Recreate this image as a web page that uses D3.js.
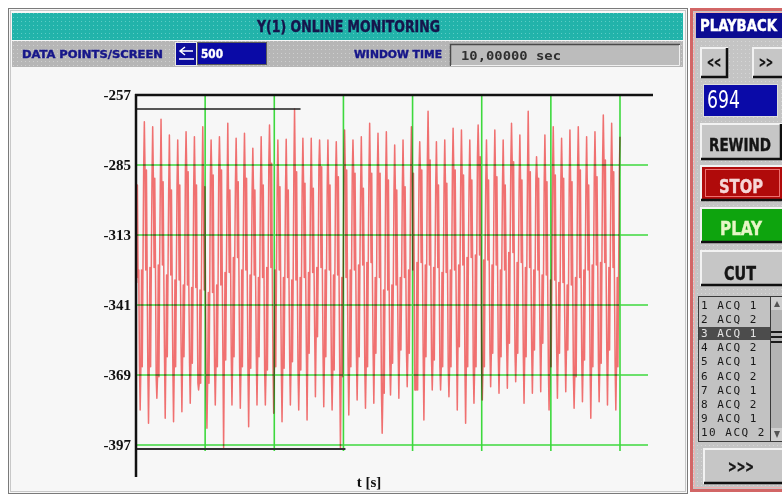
<!DOCTYPE html>
<html>
<head>
<meta charset="utf-8">
<script src="https://cdn.jsdelivr.net/npm/d3@7"></script>
<style>
  html, body { margin: 0; padding: 0; background: #ffffff; }
  svg { display: block; }
</style>
</head>
<body>
<script>
// Values, one entry per oscillation cycle (58 cycles).
const peaks = [
  -267.7, -269.7, -266.7, -273.0, -275.0, -271.7, -273.7, -269.7, -275.0, -273.7,
  -268.3, -274.3, -272.3, -278.3, -273.7, -269.0, -275.0, -274.7, -262.6, -274.3,
  -274.3, -275.0, -275.0, -275.7, -271.0, -275.0, -273.7, -268.3, -272.3, -271.7,
  -277.0, -275.0, -269.7, -275.7, -263.5, -275.7, -275.0, -270.3, -271.0, -275.0,
  -269.0, -275.0, -271.0, -275.0, -268.3, -273.0, -263.5, -281.7, -273.0, -269.7,
  -274.3, -271.0, -269.7, -273.7, -271.7, -265.0, -268.3, -273.7
];
const troughs = [
  -383.0, -388.3, -378.3, -386.3, -387.7, -383.7, -380.3, -375.0, -390.3, -381.0,
  -398.0, -381.0, -382.3, -389.7, -381.0, -381.0, -384.3, -387.7, -381.0, -383.0,
  -387.0, -377.7, -381.7, -383.0, -398.6, -385.0, -379.0, -382.3, -380.3,
  -392.3, -377.0, -378.3, -373.7, -375.0, -387.0, -375.0, -375.0, -377.7, -383.0,
  -388.3, -380.3, -379.0, -373.7, -376.3, -374.3, -371.7, -380.3, -376.3, -375.7,
  -383.0, -378.3, -375.7, -382.3, -379.7, -386.3, -379.7, -381.0, -383.0
];
// top of the upper thick bar / bottom of the lower thick bar
const upper = [
  -287.0, -290.3, -291.7, -295.0, -293.0, -287.7, -293.0, -293.7, -289.0, -287.0,
  -295.0, -291.7, -290.3, -295.0, -293.0, -284.3, -293.7, -295.0, -287.7, -292.3,
  -294.3, -285.7, -293.0, -289.7, -287.0, -288.3, -294.3, -288.3, -288.3,
  -291.0, -295.0, -293.7, -288.3, -287.0, -283.0, -293.0, -292.3, -287.0, -289.0,
  -291.0, -281.7, -291.0, -289.7, -293.0, -283.7, -291.0, -287.7, -290.3, -291.7,
  -289.0, -290.3, -291.7, -287.0, -293.0, -289.7, -283.0, -287.7, -287.7
];
const lower = [
  -365.7, -365.7, -369.7, -361.7, -365.7, -361.7, -364.3, -372.3, -372.3, -365.7,
  -363.0, -361.7, -365.7, -366.3, -361.7, -367.0, -365.7, -366.3, -363.7, -367.0,
  -360.3, -353.7, -361.7, -367.0, -369.7, -365.7, -361.7, -365.7, -360.3,
  -376.3, -364.3, -359.0, -360.3, -375.0, -361.7, -363.0, -365.7, -365.7, -357.7,
  -365.7, -365.7, -365.7, -360.3, -361.7, -356.3, -360.3, -361.7, -359.0, -356.3,
  -365.7, -360.3, -359.0, -369.7, -363.0, -365.7, -364.3, -359.0, -365.7
];
// the slow wavy line where the two bars meet
const mid = [
  -327, -326, -325, -329, -331, -333, -334, -335, -336, -333,
  -328, -322, -327, -329, -330, -326, -327, -330, -331, -330,
  -328, -326, -327, -329, -330, -327, -325, -324, -330,
  -335, -333, -330, -327, -324, -325, -326, -328, -327, -325,
  -322, -321, -323, -325, -327, -320, -324, -326, -327, -329,
  -331, -332, -333, -330, -327, -325, -324, -326, -330
];
// partial bar at the left edge before the first full cycle
const lead = [-291, -332, -293, -330];

const yTicks = [-257, -285, -313, -341, -369, -397];
const gridTimes = [1, 2, 3, 4, 5, 6, 7];
const playList = ['1 ACQ 1', '2 ACQ 2', '3 ACQ 1', '4 ACQ 2', '5 ACQ 1',
  '6 ACQ 2', '7 ACQ 1', '8 ACQ 2', '9 ACQ 1', '10 ACQ 2'];
const selectedItem = 2;

// samples in screen order: the signal chatters inside a lower band around
// each trough, then inside an upper band around each peak
const series = lead.slice();
peaks.forEach((p, k) => {
  series.push(mid[k], lower[k], troughs[k], lower[k], mid[k], lower[k],
    mid[k], upper[k], p);
  if (k < peaks.length - 1) series.push(upper[k], mid[k], upper[k]);
});

const W = 782;
const H = 498;
const narrow = "'DejaVu Sans Condensed','Liberation Sans Narrow',sans-serif";
const serif = "'Liberation Serif','DejaVu Serif',serif";
const mono = "'DejaVu Sans Mono','Liberation Mono',monospace";

const svg = d3
  .select('body')
  .append('svg')
  .attr('width', W)
  .attr('height', H)
  .attr('viewBox', [0, 0, W, H]);

// dotted textures of the old UI
const defs = svg.append('defs');
const dots = (id, base, dot) => {
  const p = defs
    .append('pattern')
    .attr('id', id)
    .attr('width', 4)
    .attr('height', 4)
    .attr('patternUnits', 'userSpaceOnUse');
  p.append('rect').attr('width', 4).attr('height', 4).attr('fill', base);
  p.append('rect').attr('x', 1).attr('y', 1).attr('width', 1).attr('height', 1).attr('fill', dot);
};
dots('teal', '#22b3aa', '#5cccc4');
dots('gray', '#b6b6b6', '#cfcfcf');
dots('panel', '#c4c4c4', '#d6d6d6');

// heavy condensed label, squeezed to the width seen on screen
const label = (tx, ty, txt, size, color, len, anchor) => {
  const t = svg
    .append('text')
    .attr('x', tx)
    .attr('y', ty)
    .attr('text-anchor', anchor || 'start')
    .style('font-family', narrow)
    .style('font-weight', 'bold')
    .style('font-size', size + 'px')
    .style('fill', color)
    .style('stroke', color)
    .style('stroke-width', 0.4)
    .text(txt);
  if (len) t.attr('textLength', len).attr('lengthAdjust', 'spacingAndGlyphs');
  return t;
};

// Left window frame
svg
  .append('rect')
  .attr('x', 8.5)
  .attr('y', 8.5)
  .attr('width', 679)
  .attr('height', 485)
  .attr('fill', '#f7f7f7')
  .attr('stroke', '#7a7a7a');
svg
  .append('rect')
  .attr('x', 10.5)
  .attr('y', 10.5)
  .attr('width', 675)
  .attr('height', 481)
  .attr('fill', 'none')
  .attr('stroke', '#c8c8c8');

// Title bar
svg
  .append('rect')
  .attr('x', 12)
  .attr('y', 13)
  .attr('width', 671)
  .attr('height', 27)
  .attr('fill', 'url(#teal)');
label(257, 32, 'Y(1) ONLINE MONITORING', 15, '#16164c', 183);

// Settings row
svg
  .append('rect')
  .attr('x', 12)
  .attr('y', 41)
  .attr('width', 671)
  .attr('height', 26)
  .attr('fill', 'url(#gray)');
label(22, 58, 'DATA POINTS/SCREEN', 11, '#16168a', 141);
svg
  .append('rect')
  .attr('x', 175.5)
  .attr('y', 42.5)
  .attr('width', 21)
  .attr('height', 23)
  .attr('fill', '#0c0c9c')
  .attr('stroke', '#e8e8e8');
svg
  .append('path')
  .attr('d', 'M193,51H181M185,47L180,51L185,55M179,59H194')
  .attr('fill', 'none')
  .attr('stroke', '#ffffff')
  .attr('stroke-width', 1.5);
svg
  .append('rect')
  .attr('x', 197.5)
  .attr('y', 42.5)
  .attr('width', 69)
  .attr('height', 22)
  .attr('fill', '#0a0aa6')
  .attr('stroke', '#5a5a5a');
label(201, 58, '500', 12, '#ffffff', 22);
label(354, 58, 'WINDOW TIME', 11, '#16168a', 88);
svg
  .append('rect')
  .attr('x', 450)
  .attr('y', 44)
  .attr('width', 230)
  .attr('height', 22)
  .attr('fill', '#bcbcbc');
svg
  .append('path')
  .attr('d', 'M450.5,66V44.5H680')
  .attr('fill', 'none')
  .attr('stroke', '#4a4a4a')
  .attr('stroke-width', 1.5);
svg
  .append('path')
  .attr('d', 'M451,65.5H679.5V45')
  .attr('fill', 'none')
  .attr('stroke', '#f0f0f0');
svg
  .append('text')
  .attr('x', 461)
  .attr('y', 60)
  .attr('textLength', 100)
  .attr('lengthAdjust', 'spacingAndGlyphs')
  .style('font-family', mono)
  .style('font-weight', 'bold')
  .style('font-size', '13px')
  .style('fill', '#303030')
  .text('10,00000 sec');

// Declare the scales.
const x = d3.scaleLinear().domain([0, 7]).range([136, 620]);
const y = d3.scaleLinear().domain([-397, -257]).range([445, 95]);
const tStep = 7 / (series.length - 1);

// Add the signal
const line = d3
  .line()
  .x((d, i) => x(i * tStep))
  .y((d) => y(d));
svg
  .append('path')
  .attr('d', line(series))
  .attr('fill', 'none')
  .attr('stroke', '#ee6060')
  .attr('stroke-opacity', 0.9)
  .attr('stroke-width', 1.5)
  .attr('stroke-linejoin', 'round');

// Add the green grid
const grid = svg.append('g').style('mix-blend-mode', 'multiply');
grid
  .selectAll('.h')
  .data(yTicks.slice(1))
  .join('line')
  .attr('x1', x(0))
  .attr('x2', x(7) + 28)
  .attr('y1', (d) => y(d))
  .attr('y2', (d) => y(d))
  .attr('stroke', '#3fe03f')
  .attr('stroke-width', 1.6);
grid
  .selectAll('.v')
  .data(gridTimes)
  .join('line')
  .attr('x1', (d) => x(d))
  .attr('x2', (d) => x(d))
  .attr('y1', y(-257))
  .attr('y2', y(-397) + 6)
  .attr('stroke', '#3fe03f')
  .attr('stroke-width', 1.6);

// Max / min markers
const iMax = d3.maxIndex(series);
const iMin = d3.minIndex(series);
svg
  .append('line')
  .attr('x1', x(0))
  .attr('x2', x(iMax * tStep) + 6)
  .attr('y1', y(series[iMax]))
  .attr('y2', y(series[iMax]))
  .attr('stroke', '#202020')
  .attr('stroke-width', 1.5);
svg
  .append('line')
  .attr('x1', x(0))
  .attr('x2', x(iMin * tStep) + 5)
  .attr('y1', y(series[iMin]))
  .attr('y2', y(series[iMin]))
  .attr('stroke', '#303030')
  .attr('stroke-width', 2);

// Top border and y axis line
svg
  .append('line')
  .attr('x1', x(0) - 1)
  .attr('x2', x(7) + 33)
  .attr('y1', y(-257))
  .attr('y2', y(-257))
  .attr('stroke', '#111111')
  .attr('stroke-width', 2.5);
svg
  .append('line')
  .attr('x1', x(0))
  .attr('x2', x(0))
  .attr('y1', y(-257) - 1)
  .attr('y2', 477)
  .attr('stroke', '#111111')
  .attr('stroke-width', 2.5);

// Add the y-axis labels.
svg
  .append('g')
  .attr('transform', `translate(${x(0)},0)`)
  .call(d3.axisLeft(y).tickValues(yTicks).tickSize(0).tickPadding(5).tickFormat((d) => String(d)))
  .call((g) => g.select('.domain').remove())
  .call((g) =>
    g
      .selectAll('text')
      .style('font-family', serif)
      .style('font-weight', 'bold')
      .style('font-size', '15px')
      .attr('fill', '#111111')
  );

svg
  .append('text')
  .attr('x', 369)
  .attr('y', 487)
  .attr('text-anchor', 'middle')
  .style('font-family', serif)
  .style('font-weight', 'bold')
  .style('font-size', '15px')
  .style('fill', '#111111')
  .text('t [s]');

// Playback panel
svg
  .append('rect')
  .attr('x', 691.5)
  .attr('y', 9.5)
  .attr('width', 96)
  .attr('height', 481)
  .attr('fill', 'url(#panel)')
  .attr('stroke', '#d26666')
  .attr('stroke-width', 3);
svg
  .append('rect')
  .attr('x', 694.5)
  .attr('y', 12.5)
  .attr('width', 96)
  .attr('height', 475)
  .attr('fill', 'none')
  .attr('stroke', '#f0b0b0');
svg
  .append('rect')
  .attr('x', 696)
  .attr('y', 13)
  .attr('width', 90)
  .attr('height', 25)
  .attr('fill', '#0c0c92');
label(700, 31, 'PLAYBACK', 15, '#ffffff', 77);

const button = (bx, by, bw, bh, fill, txt, color, size, cx, base, len) => {
  svg
    .append('rect')
    .attr('x', bx)
    .attr('y', by)
    .attr('width', bw)
    .attr('height', bh)
    .attr('fill', fill);
  svg
    .append('path')
    .attr('d', `M${bx + 1},${by + bh}V${by + 1}H${bx + bw}`)
    .attr('fill', 'none')
    .attr('stroke', '#f2f2f2')
    .attr('stroke-width', 2);
  svg
    .append('path')
    .attr('d', `M${bx + 1},${by + bh - 1}H${bx + bw - 1}V${by + 1}`)
    .attr('fill', 'none')
    .attr('stroke', '#101010')
    .attr('stroke-width', 2.5);
  label(cx, base, txt, size, color, len, 'middle');
};

button(700, 47, 28, 31, '#c6c6c6', '<<', '#111111', 14, 714, 67, 14);
button(752, 47, 34, 31, '#c6c6c6', '>>', '#111111', 14, 766, 67, 14);

svg
  .append('rect')
  .attr('x', 703.5)
  .attr('y', 84.5)
  .attr('width', 74)
  .attr('height', 32)
  .attr('fill', '#0a0aa8')
  .attr('stroke', '#dcdcdc');
svg
  .append('text')
  .attr('x', 707)
  .attr('y', 108)
  .attr('textLength', 33)
  .attr('lengthAdjust', 'spacingAndGlyphs')
  .style('font-family', narrow)
  .style('font-size', '24px')
  .style('fill', '#ffffff')
  .text('694');

button(700, 123, 82, 37, '#c6c6c6', 'REWIND', '#151515', 17, 740, 151, 62);
button(700, 165, 86, 36, '#b00a0a', 'STOP', '#f6d6d6', 20, 741, 193, 44);
svg
  .append('rect')
  .attr('x', 705.5)
  .attr('y', 169.5)
  .attr('width', 74)
  .attr('height', 27)
  .attr('fill', 'none')
  .attr('stroke', '#ee7070');
button(700, 207, 86, 36, '#0ea40e', 'PLAY', '#e6f6c6', 20, 741, 235, 42);
button(700, 250, 86, 36, '#c6c6c6', 'CUT', '#151515', 20, 740, 280, 32);

// Acquisition list
svg
  .append('rect')
  .attr('x', 698.5)
  .attr('y', 296.5)
  .attr('width', 72)
  .attr('height', 145)
  .attr('fill', '#c2c2c2')
  .attr('stroke', '#3a3a3a');
svg
  .append('rect')
  .attr('x', 699)
  .attr('y', 327)
  .attr('width', 71)
  .attr('height', 13)
  .attr('fill', '#4c4c4c');
svg
  .append('g')
  .selectAll('text')
  .data(playList)
  .join('text')
  .attr('x', 701)
  .attr('y', (d, i) => 309 + i * 14.1)
  .style('font-family', mono)
  .style('font-size', '11px')
  .style('letter-spacing', '1.5px')
  .style('fill', (d, i) => (i === selectedItem ? '#e4e4e4' : '#181818'))
  .text((d) => d);

// Scrollbar
svg
  .append('rect')
  .attr('x', 770.5)
  .attr('y', 296.5)
  .attr('width', 14)
  .attr('height', 145)
  .attr('fill', '#b4b4b4')
  .attr('stroke', '#3a3a3a');
svg
  .append('rect')
  .attr('x', 771)
  .attr('y', 297)
  .attr('width', 13)
  .attr('height', 13)
  .attr('fill', '#cfcfcf');
svg
  .append('path')
  .attr('d', 'M774,307L777,301L780,307Z')
  .attr('fill', '#555555');
svg
  .append('rect')
  .attr('x', 771)
  .attr('y', 428)
  .attr('width', 13)
  .attr('height', 13)
  .attr('fill', '#cfcfcf');
svg
  .append('path')
  .attr('d', 'M774,431L777,438L780,431Z')
  .attr('fill', '#555555');
svg
  .append('path')
  .attr('d', 'M771,332H784M771,337H784M771,342H784')
  .attr('stroke', '#1a1a1a')
  .attr('stroke-width', 2);

button(703, 448, 83, 36, '#c6c6c6', '>>>', '#151515', 16, 741, 472, 26);
</script>
</body>
</html>
